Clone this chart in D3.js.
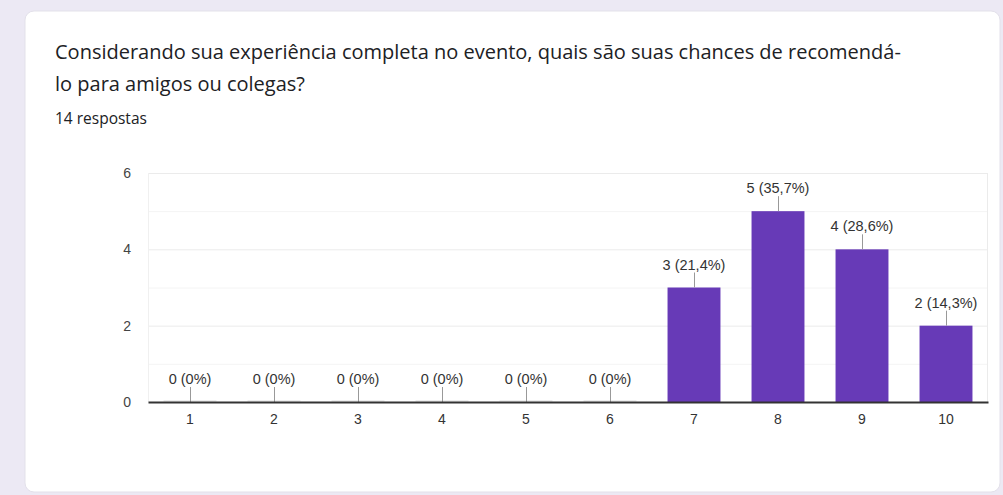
<!DOCTYPE html>
<html>
<head>
<meta charset="utf-8">
<script src="https://cdn.jsdelivr.net/npm/d3@7"></script>
<style>
  body { margin: 0; background: #ece9f4; }
  svg { display: block; }
</style>
</head>
<body>
<div id="chart"></div>
<script>
// data
var categories = ["1", "2", "3", "4", "5", "6", "7", "8", "9", "10"];
var counts = [0, 0, 0, 0, 0, 0, 3, 5, 4, 2];
var percentLabels = ["0%", "0%", "0%", "0%", "0%", "0%", "21,4%", "35,7%", "28,6%", "14,3%"];
var yTicks = [0, 2, 4, 6];

var svgWidth = 1003;
var svgHeight = 495;

var svg = d3.select("#chart").append("svg")
  .attr("width", svgWidth)
  .attr("height", svgHeight);

// card
svg.append("rect")
  .attr("x", 25)
  .attr("y", 11)
  .attr("width", 975)
  .attr("height", 481)
  .attr("rx", 9)
  .attr("fill", "#fff")
  .attr("stroke", "#e3e1ea");

// title
var title = svg.append("text")
  .attr("font-family", "'Open Sans', Roboto, sans-serif")
  .attr("font-size", "20px")
  .attr("fill", "#202124");
title.append("tspan").attr("x", 55).attr("y", 59)
  .text("Considerando sua experiência completa no evento, quais são suas chances de recomendá-");
title.append("tspan").attr("x", 55).attr("y", 91)
  .text("lo para amigos ou colegas?");

svg.append("text")
  .attr("x", 55)
  .attr("y", 124)
  .attr("font-family", "'Open Sans', Roboto, sans-serif")
  .attr("font-size", "15.5px")
  .attr("fill", "#202124")
  .text("14 respostas");

// chart area
var margin = { top: 173, left: 148 };
var chartWidth = 840;
var chartHeight = 229;

var chartGroup = svg.append("g")
  .attr("transform", `translate(${margin.left}, ${margin.top})`);

var xBandScale = d3.scaleBand()
  .domain(categories)
  .range([0, chartWidth])
  .paddingInner(0.37)
  .paddingOuter(0.185);

var yLinearScale = d3.scaleLinear()
  .domain([0, 6])
  .range([chartHeight, 0]);

// gridlines
chartGroup.selectAll(".grid")
  .data(d3.range(1, 7))
  .enter()
  .append("line")
  .attr("x1", 0)
  .attr("x2", chartWidth)
  .attr("y1", d => yLinearScale(d) + 0.5)
  .attr("y2", d => yLinearScale(d) + 0.5)
  .attr("stroke", d => d % 2 === 0 ? "#ebebeb" : "#f4f4f4");

// plot frame sides
chartGroup.append("line")
  .attr("x1", 0.5).attr("x2", 0.5)
  .attr("y1", 0).attr("y2", chartHeight)
  .attr("stroke", "#f0f0f0");
chartGroup.append("line")
  .attr("x1", chartWidth - 0.5).attr("x2", chartWidth - 0.5)
  .attr("y1", 0).attr("y2", chartHeight)
  .attr("stroke", "#ebebeb");

// y axis
var yAxis = d3.axisLeft(yLinearScale)
  .tickValues(yTicks)
  .tickFormat(d3.format("d"))
  .tickSize(0)
  .tickPadding(17);

var yAxisGroup = chartGroup.append("g").call(yAxis);
yAxisGroup.select(".domain").remove();
yAxisGroup.selectAll("text")
  .attr("font-family", "Arial, 'Liberation Sans', sans-serif")
  .attr("font-size", "14px")
  .attr("fill", "#444");

// faint placeholders for zero bars
chartGroup.selectAll(".zeroBar")
  .data(categories.filter((c, i) => counts[i] === 0))
  .enter()
  .append("rect")
  .attr("x", d => xBandScale(d))
  .attr("y", chartHeight - 2)
  .attr("width", xBandScale.bandwidth())
  .attr("height", 2)
  .attr("fill", "#eeeeee");

// bars
chartGroup.selectAll(".bar")
  .data(categories)
  .enter()
  .append("rect")
  .attr("x", d => xBandScale(d))
  .attr("y", (d, i) => yLinearScale(counts[i]))
  .attr("width", xBandScale.bandwidth())
  .attr("height", (d, i) => chartHeight - yLinearScale(counts[i]))
  .attr("fill", "#673ab7");

// label stems
chartGroup.selectAll(".stem")
  .data(categories)
  .enter()
  .append("line")
  .attr("x1", d => xBandScale(d) + xBandScale.bandwidth() / 2 + 0.5)
  .attr("x2", d => xBandScale(d) + xBandScale.bandwidth() / 2 + 0.5)
  .attr("y1", (d, i) => yLinearScale(counts[i]) - 15)
  .attr("y2", (d, i) => yLinearScale(counts[i]))
  .attr("stroke", "#999");

// value labels
chartGroup.selectAll(".valueLabel")
  .data(categories)
  .enter()
  .append("text")
  .attr("x", d => xBandScale(d) + xBandScale.bandwidth() / 2)
  .attr("y", (d, i) => yLinearScale(counts[i]) - 18)
  .attr("text-anchor", "middle")
  .attr("font-family", "Arial, 'Liberation Sans', sans-serif")
  .attr("font-size", "14.5px")
  .attr("fill", "#333")
  .text((d, i) => `${counts[i]} (${percentLabels[i]})`);

// x axis
var xAxis = d3.axisBottom(xBandScale)
  .tickSize(0)
  .tickPadding(12);

var xAxisGroup = chartGroup.append("g")
  .attr("transform", `translate(0, ${chartHeight})`)
  .call(xAxis);
xAxisGroup.select(".domain")
  .attr("stroke", "#333")
  .attr("stroke-width", 2);
xAxisGroup.selectAll("text")
  .attr("font-family", "Arial, 'Liberation Sans', sans-serif")
  .attr("font-size", "14px")
  .attr("fill", "#333");
</script>
</body>
</html>
